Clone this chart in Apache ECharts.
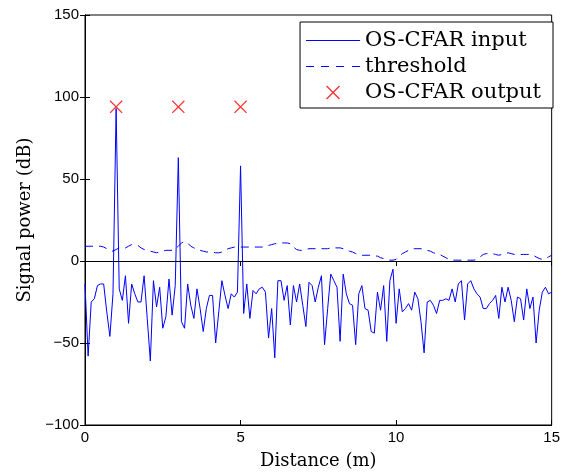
<!DOCTYPE html>
<html>
<head>
<meta charset="utf-8">
<script src="https://cdn.jsdelivr.net/npm/echarts@6/dist/echarts.min.js"></script>
<style>
  html, body { margin: 0; padding: 0; background: #fff; }
  #chart { width: 563px; height: 475px; }
</style>
</head>
<body>
<div id="chart"></div>
<script>
// samples every 0.1 m, from 0 to 15 m
let step = 0.1;

let inputPower = [
    -14, -58, -25, -23, -15, -14, -14, -31, -46, -20, 93,
    -17, -24, -9, -38, -14, -20, -25, -25, -9, -35,
    -61, -12, -28, -16, -41, -34, -11, -33, -15, 63,
    -37, -41, -14, -27, -35, -17, -29, -43, -29, -21,
    -21, -50, -31, -12, -21, -29, -20, -22, -19, 58,
    -32, -14, -35, -18, -20, -17, -16, -19, -47, -29,
    -59, -12, -12, -24, -15, -39, -15, -25, -14, -27,
    -40, -13, -15, -25, -16, -9, -51, -29, -8, -12,
    -16, -49, -8, -20, -26, -27, -51, -20, -15, -29,
    -30, -43, -44, -19, -30, -15, -49, -12, -5, -38,
    -17, -31, -29, -26, -30, -19, -23, -37, -56, -25,
    -24, -27, -32, -24, -24, -23, -24, -17, -25, -14,
    -12, -36, -14, -12, -17, -20, -22, -29, -29, -26,
    -24, -21, -35, -16, -25, -16, -24, -37, -22, -23,
    -36, -17, -29, -22, -50, -30, -19, -16, -20, -19
];

let threshold = [
    9, 9, 9, 9, 9, 9, 8.5, 7.5, 6.5, 6,
    7, 8, 7.5, 8, 9, 10, 10, 9.5, 8, 7,
    6.5, 6, 5.5, 5, 5.5, 6, 6.5, 6.5, 6.5, 7.5,
    9, 11, 12, 11, 9, 8, 7, 6.5, 6, 5.5,
    5.5, 5.5, 5, 5, 5.5, 6.5, 7.5, 8, 8.5, 8.5,
    8.5, 8.5, 8.5, 8.5, 8.5, 8.5, 8.5, 8.5, 9, 9.5,
    10, 10.5, 11, 11, 11, 11, 10.5, 8.5, 7, 6.5,
    6.5, 7, 7.5, 7.5, 7.5, 7.5, 7.5, 7.5, 7.5, 8,
    8, 8, 8, 7.5, 7, 6, 5.5, 4.5, 4, 3.5,
    3.5, 3.5, 3.5, 3, 3, 2, 1.5, 1, 0.5, 0.5,
    1, 3, 4.5, 5.5, 6.5, 7.5, 7.5, 7.5, 7.5, 7,
    6.5, 6, 5, 4.5, 4, 3, 2, 1, 0.5, 0.5,
    0.5, 0.5, 0.5, 0.5, 0.5, 0.5, 1, 2.5, 4, 4.5,
    4.5, 4.5, 4, 3.5, 4, 4.5, 5, 4.5, 4, 4,
    4, 4, 4, 4, 3.5, 2.5, 1.5, 1, 1.5, 2.5, 3.5
];

let detectDistance = [1, 3, 5];
let detectPower = [94, 94, 94];

let inputData = inputPower.map(function (v, i) { return [+(i * step).toFixed(1), v]; });
let thresholdData = threshold.map(function (v, i) { return [+(i * step).toFixed(1), v]; });
let outputData = detectDistance.map(function (d, i) { return [d, detectPower[i]]; });

let crossPath = 'path://M0.7,0 L5,4.3 L9.3,0 L10,0.7 L5.7,5 L10,9.3 L9.3,10 L5,5.7 L0.7,10 L0,9.3 L4.3,5 L0,0.7 Z';
// legend samples: plain solid line and dashed line
let solidIcon = 'path://M0,0 L54,0 L54,1.2 L0,1.2 Z';
let dashIcon = 'path://M0,0h8v1.2h-8z M15,0h8v1.2h-8z M30,0h8v1.2h-8z M46,0h8v1.2h-8z';
let blueIcon = { color: '#0000ff', borderColor: '#0000ff', borderWidth: 0 };

let tickFont = { color: '#000', fontFamily: 'Liberation Sans', fontSize: 15 };
let nameFont = { color: '#000', fontFamily: 'DejaVu Serif', fontSize: 18 };

let optionChart = {
    animation: false,
    backgroundColor: '#fff',
    grid: {
        left: 85, right: 8, top: 15, bottom: 50,
        show: true, borderColor: '#000', borderWidth: 1
    },
    legend: {
        orient: 'vertical',
        right: 10, top: 22,
        backgroundColor: '#fff',
        borderColor: '#000', borderWidth: 1,
        padding: [8, 12, 5, 6],
        itemWidth: 54, itemHeight: 14, itemGap: 5,
        textStyle: { color: '#000', fontFamily: 'DejaVu Serif', fontSize: 21 },
        data: [
            { name: 'OS-CFAR input', icon: solidIcon, itemStyle: blueIcon },
            { name: 'threshold', icon: dashIcon, itemStyle: blueIcon },
            { name: 'OS-CFAR output' }
        ]
    },
    xAxis: [
        {
            type: 'value', min: 0, max: 15, interval: 5,
            name: 'Distance (m)', nameLocation: 'middle', nameGap: 27,
            nameTextStyle: nameFont,
            axisLine: { onZero: false, lineStyle: { color: '#000' } },
            axisTick: { inside: true, length: 5, lineStyle: { color: '#000' } },
            axisLabel: Object.assign({ margin: 5 }, tickFont),
            splitLine: { show: false }
        },
        {
            type: 'value', min: 0, max: 15, interval: 5, position: 'top',
            axisLine: { lineStyle: { color: '#000' } },
            axisTick: { inside: true, length: 5, lineStyle: { color: '#000' } },
            axisLabel: { show: false },
            splitLine: { show: false }
        }
    ],
    yAxis: [
        {
            type: 'value', min: -100, max: 150, interval: 50,
            name: 'Signal power (dB)', nameLocation: 'middle', nameGap: 50,
            nameTextStyle: nameFont,
            axisLine: { show: true, onZero: false, lineStyle: { color: '#000' } },
            axisTick: { show: true, inside: true, length: 5, lineStyle: { color: '#000' } },
            axisLabel: Object.assign({
                margin: 6,
                formatter: function (v) { return String(v).replace('-', '\u2212'); }
            }, tickFont),
            splitLine: { show: false }
        },
        {
            type: 'value', min: -100, max: 150, interval: 50, position: 'right',
            axisLine: { show: true, lineStyle: { color: '#000' } },
            axisTick: { show: true, inside: true, length: 5, lineStyle: { color: '#000' } },
            axisLabel: { show: false },
            splitLine: { show: false }
        }
    ],
    series: [
        {
            name: 'zero',
            type: 'line',
            data: [],
            markLine: {
                silent: true,
                symbol: 'none',
                label: { show: false },
                lineStyle: { color: '#000', type: 'solid', width: 1 },
                data: [{ yAxis: 0 }]
            },
            z: 1
        },
        {
            name: 'OS-CFAR input',
            type: 'line',
            data: inputData,
            symbol: 'none',
            color: '#0000ff',
            lineStyle: { color: '#0000ff', width: 1 },
            z: 3
        },
        {
            name: 'threshold',
            type: 'line',
            data: thresholdData,
            symbol: 'none',
            color: '#0000ff',
            lineStyle: { color: '#0000ff', width: 1, type: [8, 6] },
            z: 2
        },
        {
            name: 'OS-CFAR output',
            type: 'scatter',
            data: outputData,
            symbol: crossPath,
            symbolSize: 13,
            itemStyle: { color: '#ff0000' },
            z: 4
        }
    ]
};

let chart = echarts.init(document.getElementById('chart'));
chart.setOption(optionChart);
</script>
</body>
</html>
